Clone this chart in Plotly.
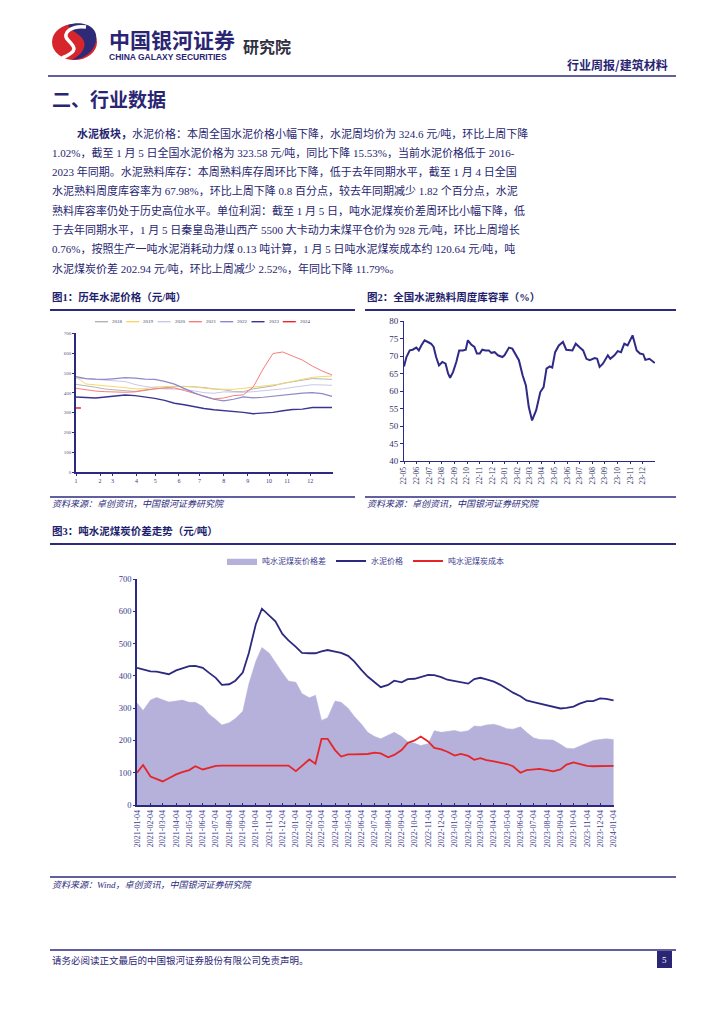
import plotly.graph_objects as go

W, H = 724, 1024
def X(px): return px / W
def Y(py): return 1 - py / H

NAVY = "#2B2A80"
DARK = "#25226E"
BODY = "#27266F"
SERIF = "Liberation Serif, Noto Sans CJK SC"
SANS = "Noto Sans CJK SC, Liberation Sans"

# ---------------- Figure 1 data: yearly cement price (元/吨) ----------------
week_points = list(range(0, 53, 2))
month_start_week = [0, 4.9, 7.4, 12.3, 16.1, 20.9, 25.1, 30.0, 34.9, 39.2, 42.9, 47.6]
month_labels = ["1", "2", "3", "4", "5", "6", "7", "8", "9", "10", "11", "12"]
price_2018 = [443, 437, 428, 419, 414, 410, 407, 415, 420, 428, 431, 433, 431, 427, 420, 416, 407, 406, 420, 428, 435, 448, 456, 462, 472, 470, 468]
price_2019 = [480, 445, 440, 436, 431, 426, 420, 421, 430, 433, 433, 432, 430, 424, 419, 418, 418, 423, 428, 434, 440, 446, 458, 468, 478, 482, 485]
price_2020 = [475, 471, 466, 462, 460, 457, 442, 432, 426, 420, 419, 417, 410, 401, 398, 405, 404, 403, 406, 410, 415, 420, 428, 435, 441, 440, 438]
price_2021 = [423, 416, 409, 406, 404, 403, 405, 413, 420, 424, 425, 412, 398, 384, 370, 374, 386, 390, 430, 520, 598, 606, 584, 565, 535, 510, 490]
price_2022 = [482, 472, 469, 468, 472, 477, 474, 469, 468, 458, 444, 420, 400, 382, 368, 360, 368, 380, 375, 378, 384, 390, 395, 399, 401, 396, 382]
price_2023 = [379, 378, 374, 379, 384, 389, 386, 380, 372, 362, 348, 340, 330, 321, 315, 311, 306, 302, 295, 298, 302, 310, 316, 318, 326, 326, 326]
week_2024 = [0]
price_2024 = [323.58]

# ---------------- Figure 2 data: clinker inventory ratio (%) ----------------
clinker_dates = ["2022-05-05", "2022-05-11", "2022-05-19", "2022-05-26", "2022-06-04", "2022-06-10", "2022-06-16", "2022-06-24",
                 "2022-07-02", "2022-07-10", "2022-07-16", "2022-07-22", "2022-07-29", "2022-08-06", "2022-08-14", "2022-08-20",
                 "2022-08-25", "2022-09-01", "2022-09-09", "2022-09-16", "2022-09-25", "2022-10-02", "2022-10-07", "2022-10-15",
                 "2022-10-23", "2022-10-29", "2022-11-05", "2022-11-11", "2022-11-19", "2022-11-27", "2022-12-03", "2022-12-11",
                 "2022-12-19", "2022-12-30", "2023-01-04", "2023-01-15", "2023-01-23", "2023-02-02", "2023-02-08", "2023-02-17",
                 "2023-02-25", "2023-03-04", "2023-03-12", "2023-03-22", "2023-04-01", "2023-04-09", "2023-04-16", "2023-04-24",
                 "2023-04-30", "2023-05-07", "2023-05-16", "2023-05-26", "2023-06-03", "2023-06-18", "2023-06-26", "2023-07-06",
                 "2023-07-14", "2023-07-22", "2023-07-30", "2023-08-11", "2023-08-17", "2023-08-23", "2023-08-31", "2023-09-12",
                 "2023-09-18", "2023-09-28", "2023-10-06", "2023-10-14", "2023-10-22", "2023-10-30", "2023-11-11", "2023-11-21",
                 "2023-11-29", "2023-12-07", "2023-12-12", "2023-12-22", "2024-01-04"]
clinker_ratio = [67.0, 69.7, 71.6, 71.8, 72.4, 71.6, 73.0, 74.5, 74.0, 73.5, 72.6, 69.7, 67.3, 68.3, 67.8, 65.0,
                 63.8, 65.4, 68.3, 71.6, 71.6, 71.8, 74.5, 73.3, 72.6, 70.7, 70.7, 71.8, 71.6, 71.6, 70.9, 71.1,
                 70.2, 69.7, 70.2, 72.4, 72.1, 70.2, 68.8, 64.5, 61.6, 55.4, 51.6, 54.5, 59.7, 61.1, 66.4, 67.0,
                 66.7, 71.1, 73.0, 74.0, 71.8, 71.6, 73.5, 72.4, 71.6, 69.2, 68.8, 69.4, 69.2, 66.9, 67.8, 70.2,
                 69.2, 70.2, 71.4, 71.1, 73.5, 73.0, 75.9, 71.6, 70.7, 70.5, 68.9, 69.2, 67.98]

# ---------------- Figure 3 data: cement price / coal cost / spread (元/吨) ----------------
spread_dates = [f"{y}-{m:02d}-{d:02d}" for y in (2021, 2022, 2023) for m in range(1, 13) for d in (4, 18)] + ["2024-01-04"]
cement_price = [425, 420, 414, 413, 409, 405, 417, 422, 430, 431, 425, 410, 394, 372, 374, 385, 410, 471, 560, 608, 585, 569, 530, 510,
                490, 471, 470, 470, 476, 480, 475, 471, 462, 445, 418, 398, 380, 365, 372, 385, 380, 390, 391, 397, 403, 402, 396, 388,
                384, 380, 376, 390, 394, 389, 382, 373, 360, 348, 337, 324, 319, 314, 308, 305, 299, 301, 305, 314, 322, 322, 330, 329,
                324]
coal_spread = [316, 293, 325, 333, 326, 319, 322, 325, 318, 318, 305, 282, 265, 248, 255, 268, 290, 375, 445, 488, 470, 440, 410, 384,
               380, 345, 332, 340, 262, 270, 322, 318, 300, 275, 250, 225, 212, 205, 215, 225, 212, 196, 191, 184, 190, 230, 225, 228,
               231, 226, 230, 245, 243, 248, 250, 245, 236, 235, 242, 225, 208, 203, 202, 201, 188, 176, 174, 182, 193, 200, 203, 205,
               203]
coal_cost = [100, 124, 88, 80, 73, 83, 95, 102, 108, 120, 110, 115, 121, 122, 122, 122, 122, 122, 122, 122, 122, 122, 122, 122,
             105, 121, 141, 128, 205, 205, 170, 150, 157, 157, 157, 158, 162, 160, 148, 155, 170, 192, 200, 212, 197, 177, 172, 165,
             153, 158, 152, 140, 145, 139, 135, 131, 127, 120, 100, 108, 110, 112, 108, 104, 110, 125, 132, 128, 121, 120, 121, 122,
             121]

fig = go.Figure()

# ---- Figure 1 traces
fig1_series = [
    ("2018", price_2018, "#B4B4B4", 1.0),
    ("2019", price_2019, "#F6D66B", 1.0),
    ("2020", price_2020, "#C9C7E6", 1.0),
    ("2021", price_2021, "#F47E7A", 1.0),
    ("2022", price_2022, "#8C88C9", 1.2),
    ("2023", price_2023, "#3A3491", 1.4),
]
for name, vals, col, lw in fig1_series:
    fig.add_trace(go.Scatter(x=week_points, y=vals, name=name, mode="lines",
                             line=dict(color=col, width=lw), showlegend=False,
                             xaxis="x", yaxis="y"))
fig.add_trace(go.Scatter(x=week_2024, y=price_2024, name="2024", mode="markers",
                         marker=dict(symbol="line-ew", size=7, line=dict(color="#E8262B", width=1.6)),
                         showlegend=False, xaxis="x", yaxis="y"))

# ---- Figure 2 trace
fig.add_trace(go.Scatter(x=clinker_dates, y=clinker_ratio, mode="lines", name="库容率",
                         line=dict(color="#2E2A86", width=2), showlegend=False,
                         xaxis="x2", yaxis="y2"))

# ---- Figure 3 traces
fig.add_trace(go.Scatter(x=spread_dates, y=coal_spread, mode="lines", name="吨水泥煤炭价格差",
                         fill="tozeroy", fillcolor="#B5B1DA", line=dict(color="#B5B1DA", width=0.5),
                         xaxis="x3", yaxis="y3", legend="legend3"))
fig.add_trace(go.Scatter(x=spread_dates, y=cement_price, mode="lines", name="水泥价格",
                         line=dict(color="#2B2A80", width=1.8), xaxis="x3", yaxis="y3", legend="legend3"))
fig.add_trace(go.Scatter(x=spread_dates, y=coal_cost, mode="lines", name="吨水泥煤炭成本",
                         line=dict(color="#E5252A", width=1.8), xaxis="x3", yaxis="y3", legend="legend3"))

axis_common = dict(showgrid=False, zeroline=False, showline=True, linecolor=NAVY, automargin=False)

layout = dict(
    width=W, height=H, autosize=False,
    margin=dict(l=0, r=0, t=0, b=0),
    paper_bgcolor="white", plot_bgcolor="white",
    font=dict(family=SERIF, color=DARK),
    xaxis=dict(domain=[X(76), X(333)], range=[0, 52.2], tickmode="array",
               tickvals=month_start_week, ticktext=month_labels, ticks="outside", ticklen=2,
               tickcolor=NAVY, tickfont=dict(size=6, color="#3A3A7A", family=SERIF),
               linewidth=1.5, anchor="y", **axis_common),
    yaxis=dict(domain=[Y(472.3), Y(333.3)], range=[0, 700], dtick=100, ticks="outside", ticklen=2,
               tickcolor=NAVY, tickfont=dict(size=5, color="#555577", family=SERIF),
               linewidth=1.5, anchor="x", **axis_common),
    xaxis2=dict(domain=[X(404), X(655)], type="date", range=["2022-05-05", "2024-01-04 12:00"],
                tick0="2022-05-05", dtick="M1", tickformat="%y-%m", tickangle=-90,
                ticks="outside", ticklen=2, tickcolor=NAVY,
                tickfont=dict(size=7.5, color="#333366", family=SERIF),
                linewidth=1, anchor="y2", **axis_common),
    yaxis2=dict(domain=[Y(461), Y(321)], range=[40, 80], dtick=5, ticks="outside", ticklen=3,
                tickcolor=NAVY, tickfont=dict(size=9, color="#333366", family=SERIF),
                linewidth=1, anchor="x2", **axis_common),
    xaxis3=dict(domain=[X(137), X(614)], type="date", range=["2021-01-04", "2024-01-05"],
                tick0="2021-01-04", dtick="M1", tickformat="%Y-%m-%d", tickangle=-90,
                ticks="inside", ticklen=2, tickcolor=NAVY,
                tickfont=dict(size=8, color="#3D3B8E", family=SERIF),
                linewidth=1.5, anchor="y3", **axis_common),
    yaxis3=dict(domain=[Y(805), Y(579)], range=[0, 700], dtick=100, ticks="outside", ticklen=2,
                tickcolor=NAVY, tickfont=dict(size=8.5, color="#3D3B8E", family=SERIF),
                linewidth=1.5, anchor="x3", **axis_common),
    legend3=dict(orientation="h", x=X(222), y=Y(561), xanchor="left", yanchor="middle",
                 font=dict(size=8, color="#3D3B8E", family=SERIF), bgcolor="rgba(0,0,0,0)",
                 itemwidth=30, tracegroupgap=0),
)
fig.update_layout(**layout)

shapes = []
def hline(x0, x1, y, width=1.5, color=NAVY):
    shapes.append(dict(type="line", xref="paper", yref="paper", x0=X(x0), x1=X(x1), y0=Y(y), y1=Y(y),
                       line=dict(color=color, width=width)))

def px_path(cmds):
    out = []
    for c, pts in cmds:
        coords = []
        for i in range(0, len(pts), 2):
            coords.append(f"{X(pts[i]):.5f},{Y(pts[i+1]):.5f}")
        out.append(c + " " + " ".join(coords))
    return " ".join(out)

# Logo
shapes.append(dict(type="circle", xref="paper", yref="paper", x0=X(52), x1=X(97), y0=Y(60), y1=Y(24),
                   fillcolor="#D7262B", line=dict(width=0)))
shapes.append(dict(type="path", xref="paper", yref="paper",
                   path=px_path([("M", [68, 25]), ("C", [82, 20, 99, 26, 96, 41]), ("C", [94, 52, 84, 59, 72, 60]),
                                 ("C", [83, 54, 88, 45, 82, 38]), ("C", [78, 33, 71, 31, 68, 25]), ("Z", [])]),
                   fillcolor="#2E2A78", line=dict(width=0)))
shapes.append(dict(type="path", xref="paper", yref="paper",
                   path=px_path([("M", [86, 27]), ("C", [72, 25, 61, 33, 68, 40]), ("C", [74, 46, 80, 51, 62, 58])]),
                   fillcolor="rgba(0,0,0,0)", line=dict(color="white", width=3.5)))

hline(48, 676, 76, 1.6)          # header rule
hline(50, 355, 310, 2)           # fig1 title rule
hline(50, 355, 497, 1.5)         # fig1 source rule
hline(365, 676, 310, 2)          # fig2 title rule
hline(365, 676, 497, 1.5)        # fig2 source rule
hline(50, 676, 544, 2)           # fig3 title rule
hline(50, 676, 877, 1.5)         # fig3 source rule
hline(50, 676, 950, 1.5)         # footer rule
shapes.append(dict(type="rect", xref="paper", yref="paper", x0=X(657), x1=X(672), y0=Y(968), y1=Y(951),
                   fillcolor="#2A2574", line=dict(width=0)))

# Figure 1 legend (drawn manually, compact)
legend1_items = [(n, c) for n, _, c, _ in fig1_series] + [("2024", "#E8262B")]
leg_x0, leg_step, leg_y = 95, 31.3, 321.7
annotations = []
for i, (name, col) in enumerate(legend1_items):
    lx = leg_x0 + i * leg_step
    shapes.append(dict(type="line", xref="paper", yref="paper", x0=X(lx), x1=X(lx + 13), y0=Y(leg_y), y1=Y(leg_y),
                       line=dict(color=col, width=1.4)))
    annotations.append(dict(x=X(lx + 15), y=Y(leg_y), xref="paper", yref="paper", text=name, showarrow=False,
                            xanchor="left", yanchor="middle", font=dict(size=5, color="#444466", family=SERIF)))

def text(x, y, s, size, color=BODY, anchor="left", family=SERIF):
    annotations.append(dict(x=X(x), y=Y(y), xref="paper", yref="paper", text=s, showarrow=False,
                            xanchor=anchor, yanchor="middle", font=dict(size=size, color=color, family=family)))

text(107, 38.5, "<b>中国银河证券</b>", 21, "#2A2573", family=SANS)
text(107, 57, "<b>CHINA GALAXY SECURITIES</b>", 8.5, "#2A2573", family="Liberation Sans")
text(241, 46, "<b>研究院</b>", 16, "#2F2F3F", family=SANS)
text(670, 64, "<b>行业周报/建筑材料</b>", 12, "#2A2573", anchor="right", family=SANS)
text(50, 98, "<b>二、行业数据</b>", 19, "#2A2573", family=SANS)

body_lines = [
    (75, "<b>水泥板块，</b>水泥价格：本周全国水泥价格小幅下降，水泥周均价为 324.6 元/吨，环比上周下降"),
    (50, "1.02%，截至 1 月 5 日全国水泥价格为 323.58 元/吨，同比下降 15.53%，当前水泥价格低于 2016-"),
    (50, "2023 年同期。水泥熟料库存：本周熟料库存周环比下降，低于去年同期水平，截至 1 月 4 日全国"),
    (50, "水泥熟料周度库容率为 67.98%，环比上周下降 0.8 百分点，较去年同期减少 1.82 个百分点，水泥"),
    (50, "熟料库容率仍处于历史高位水平。单位利润：截至 1 月 5 日，吨水泥煤炭价差周环比小幅下降，低"),
    (50, "于去年同期水平，1 月 5 日秦皇岛港山西产 5500 大卡动力末煤平仓价为 928 元/吨，环比上周增长"),
    (50, "0.76%，按照生产一吨水泥消耗动力煤 0.13 吨计算，1 月 5 日吨水泥煤炭成本约 120.64 元/吨，吨"),
    (50, "水泥煤炭价差 202.94 元/吨，环比上周减少 2.52%，年同比下降 11.79%。"),
]
for i, (x0, s) in enumerate(body_lines):
    text(x0, 133 + i * 19.3, s, 11)

text(50, 297, "<b>图1：历年水泥价格（元/吨）</b>", 10.5, "#221E6B")
text(365, 297, "<b>图2：全国水泥熟料周度库容率（%）</b>", 10.5, "#221E6B")
text(50, 504, "<i>资料来源：卓创资讯，中国银河证券研究院</i>", 9, "#2B2A7A")
text(365, 504, "<i>资料来源：卓创资讯，中国银河证券研究院</i>", 9, "#2B2A7A")
text(50, 531, "<b>图3：吨水泥煤炭价差走势（元/吨）</b>", 10.5, "#221E6B")
text(50, 885, "<i>资料来源：Wind，卓创资讯，中国银河证券研究院</i>", 9, "#2B2A7A")
text(50, 960, "请务必阅读正文最后的中国银河证券股份有限公司免责声明。", 9.5, "#2A2574")
text(664.5, 959.5, "5", 9, "white", anchor="center")

fig.update_layout(shapes=shapes, annotations=annotations)
fig.write_html("out.html", config={"displayModeBar": False},
               post_script="document.body.style.margin='0';document.body.style.padding='0';")
